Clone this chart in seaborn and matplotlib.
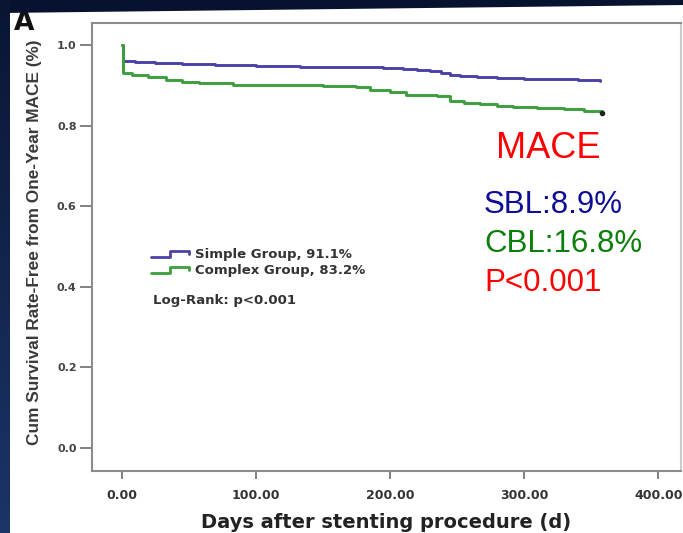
import numpy as np
import pandas as pd
import matplotlib
matplotlib.use("Agg")
import matplotlib.pyplot as plt
from matplotlib.lines import Line2D
from matplotlib.legend_handler import HandlerBase
from matplotlib.patches import Polygon
from matplotlib.colors import LinearSegmentedColormap
import seaborn as sns

# ---------------- data ----------------
simple_days = [0, 1, 10, 25, 45, 70, 100, 133, 165, 195, 210, 220, 230, 238, 245, 252, 265, 280, 300, 320, 340, 357]
simple_surv = [1.0, 0.961, 0.958, 0.955, 0.953, 0.951, 0.949, 0.946, 0.945, 0.943, 0.941, 0.938, 0.935, 0.931,
               0.927, 0.924, 0.921, 0.919, 0.917, 0.915, 0.913, 0.911]
complex_days = [0, 1, 8, 20, 33, 45, 58, 83, 133, 150, 175, 185, 200, 212, 235, 245, 255, 267, 280, 292, 310, 330, 345, 358]
complex_surv = [1.0, 0.930, 0.925, 0.921, 0.913, 0.909, 0.906, 0.902, 0.901, 0.899, 0.895, 0.888, 0.884, 0.876,
                0.873, 0.862, 0.857, 0.853, 0.849, 0.847, 0.844, 0.841, 0.836, 0.832]
group_labels = ["Simple Group, 91.1%", "Complex Group, 83.2%"]
x_ticks = [0, 100, 200, 300, 400]
x_tick_labels = ["0.00", "100.00", "200.00", "300.00", "400.00"]
y_ticks = [0.0, 0.2, 0.4, 0.6, 0.8, 1.0]
y_tick_labels = ["0.0", "0.2", "0.4", "0.6", "0.8", "1.0"]
annot_lines = ["MACE", "SBL:8.9%", "CBL:16.8%", "P<0.001"]

sns.set_theme(style="white")
plt.rcParams["font.family"] = ["Liberation Sans", "DejaVu Sans"]
WIDE = ["DejaVu Sans"]

W, H = 683, 533
fig = plt.figure(figsize=(W / 100, H / 100), dpi=100, facecolor="white")

def fx(px):
    return px / W

def fy(py):
    return 1 - py / H

ax_l, ax_r, ax_t, ax_b = 92, 681, 23, 471
ax = fig.add_axes([fx(ax_l), fy(ax_b), fx(ax_r - ax_l), (ax_b - ax_t) / H])
ax.set_facecolor("white")

df = pd.concat([
    pd.DataFrame({"day": simple_days, "surv": simple_surv, "group": group_labels[0]}),
    pd.DataFrame({"day": complex_days, "surv": complex_surv, "group": group_labels[1]}),
])
blue = "#4a42a6"
green = "#3c9e3c"
palette = {group_labels[0]: blue, group_labels[1]: green}
sns.lineplot(data=df, x="day", y="surv", hue="group", palette=palette, ax=ax,
             drawstyle="steps-post", linewidth=2.1, legend=False, sort=False,
             estimator=None)
ax.plot([complex_days[-1]], [complex_surv[-1]], "o", color="#222222", markersize=3)

ax.set_xlim(-22, 417)
ax.set_ylim(-0.057, 1.055)
ax.set_xticks(x_ticks)
ax.set_xticklabels(x_tick_labels, fontsize=9, fontweight="bold", color="#333333", family=WIDE)
ax.set_yticks(y_ticks)
ax.set_yticklabels(y_tick_labels, fontsize=8, fontweight="bold", color="#444444", family=WIDE)
ax.tick_params(axis="x", direction="out", length=6, width=1.3, color="#777777", pad=7, bottom=True)
ax.tick_params(axis="y", direction="out", length=9, width=1.3, color="#777777", pad=2, left=True)
for s in ["left", "bottom", "top", "right"]:
    ax.spines[s].set_color("#8c8c8c")
    ax.spines[s].set_linewidth(1.5)
ax.spines["right"].set_color("#cccccc")
ax.set_xlabel("Days after stenting procedure (d)", fontsize=14, fontweight="bold", color="#222222",
              labelpad=8, family=WIDE)
ax.set_ylabel("Cum Survival Rate-Free from One-Year MACE (%)", fontsize=12.4, fontweight="bold",
              color="#3a3a3a", labelpad=11, y=0.51)

# legend with step-shaped icons
class StepHandler(HandlerBase):
    def create_artists(self, legend, orig_handle, xdescent, ydescent, width, height, fontsize, trans):
        x0 = -xdescent
        y0 = -ydescent + height * 0.15
        y1 = -ydescent + height * 0.75
        xs = [x0, x0 + width * 0.45, x0 + width * 0.45, x0 + width * 0.92, x0 + width * 0.92]
        ys = [y0, y0, y1, y1, y0 + (y1 - y0) * 0.45]
        ln = Line2D(xs, ys, color=orig_handle.get_color(), linewidth=2.0, transform=trans)
        return [ln]

handles = [Line2D([], [], color=blue), Line2D([], [], color=green)]
leg = ax.legend(handles, group_labels, handler_map={Line2D: StepHandler()},
                loc="upper left", bbox_to_anchor=(0.095, 0.503), frameon=False,
                prop={"size": 9.5, "weight": "bold", "family": WIDE}, handlelength=3.2,
                handletextpad=0.15, labelspacing=0.2, borderpad=0.2, borderaxespad=0)
for t in leg.get_texts():
    t.set_color("#333333")
ax.text(0.104, 0.38, "Log-Rank: p<0.001", transform=ax.transAxes, fontsize=9.5,
        fontweight="bold", color="#333333", va="center", ha="left", family=WIDE)

# annotations on the right
fig.text(fx(496), fy(149), annot_lines[0], fontsize=26, color="#ff0000", va="center", ha="left")
fig.text(fx(484), fy(205), annot_lines[1], fontsize=22.5, color="#0d0d96", va="center", ha="left")
fig.text(fx(484), fy(244), annot_lines[2], fontsize=22.5, color="#0b7f0b", va="center", ha="left")
fig.text(fx(484), fy(283), annot_lines[3], fontsize=22.5, color="#ff0000", va="center", ha="left")

# panel letter
fig.text(fx(14), fy(30), "A", fontsize=19, fontweight="bold", color="#111111", va="baseline", ha="left",
         family=WIDE)

# dark frame bands
top_band = Polygon([[0, 1], [1, 1], [1, fy(5)], [0, fy(13)]], closed=True, transform=fig.transFigure,
                   facecolor="#06122e", edgecolor="none", zorder=10)
fig.patches.append(top_band)
band_ax = fig.add_axes([0, 0, fx(10), 1], zorder=11)
grad = np.linspace(0, 1, 256).reshape(-1, 1)
cm = LinearSegmentedColormap.from_list("band", ["#0a1533", "#1b3568"])
band_ax.imshow(grad, aspect="auto", cmap=cm, origin="upper", extent=[0, 1, 0, 1])
band_ax.axis("off")

fig.savefig("out.png", dpi=100, facecolor="white")
